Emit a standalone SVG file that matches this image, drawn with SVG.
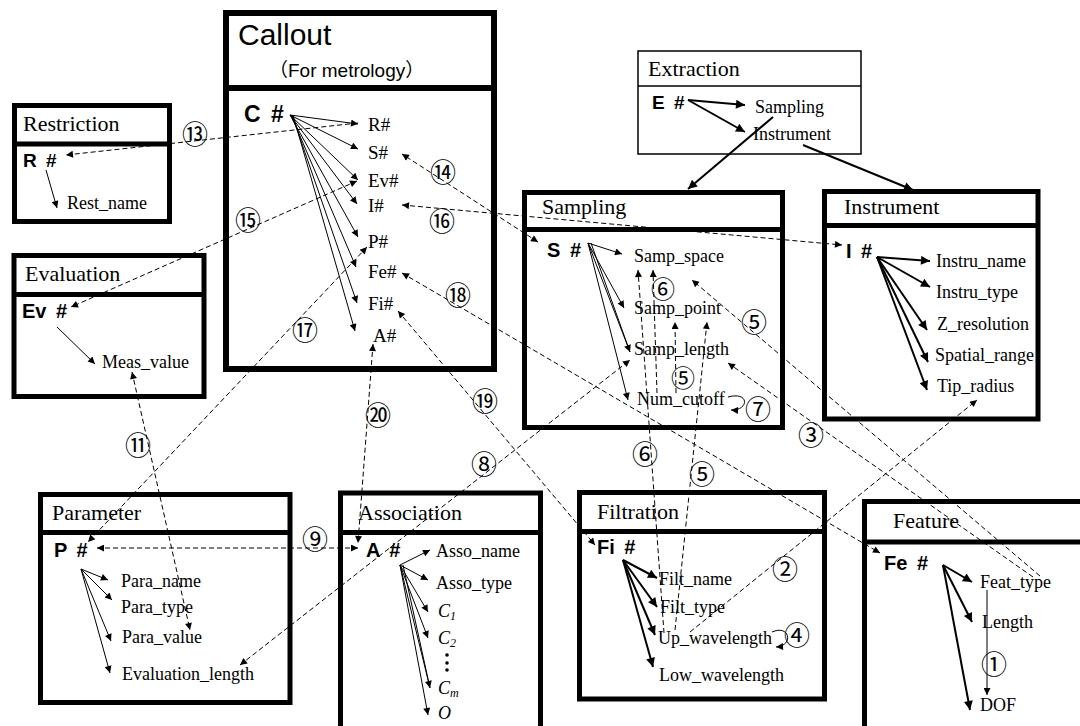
<svg xmlns="http://www.w3.org/2000/svg" width="1080" height="726" viewBox="0 0 1080 726">
<defs>
<marker id="a" viewBox="0 0 10 10" refX="10" refY="5" markerWidth="11" markerHeight="7" markerUnits="userSpaceOnUse" orient="auto-start-reverse"><path d="M0,0 L10,5 L0,10 z" fill="#000"/></marker>
<marker id="b" viewBox="0 0 10 10" refX="10" refY="5" markerWidth="14" markerHeight="9" markerUnits="userSpaceOnUse" orient="auto-start-reverse"><path d="M0,0 L10,5 L0,10 z" fill="#000"/></marker>
</defs>
<style>
.box{fill:#fff;stroke:#000;stroke-width:5}
.thin{fill:#fff;stroke:#000;stroke-width:1.5}
.hd{font-family:"Liberation Serif",serif;font-size:22px}
.it{font-family:"Liberation Serif",serif;font-size:18px}
.ci{font-family:"Liberation Serif",serif;font-size:19px}
.id{font-family:"Liberation Sans",sans-serif;font-size:20px;font-weight:bold;word-spacing:4px}
.ar{stroke:#000;stroke-width:1;fill:none;marker-end:url(#a)}
.ak{stroke:#000;stroke-width:2;fill:none;marker-end:url(#b)}
.ds{stroke:#000;stroke-width:1;fill:none;stroke-dasharray:5,3;marker-end:url(#a)}
.dd{stroke:#000;stroke-width:1;fill:none;stroke-dasharray:5,3;marker-end:url(#a);marker-start:url(#a)}
.num{font-family:"Noto Sans CJK SC",sans-serif;font-size:26px;text-anchor:middle;dominant-baseline:central}
</style>
<rect width="1080" height="726" fill="#fff"/>

<g id="callout">
<rect class="box" x="226" y="13" width="268" height="356" style="stroke-width:6"/>
<line x1="226" y1="88" x2="494" y2="88" stroke="#000" stroke-width="6"/>
<text x="238" y="45" font-family="Liberation Sans, sans-serif" font-size="30">Callout</text>
<text x="269" y="77" font-family="Liberation Sans, 'Noto Sans CJK SC', sans-serif" font-size="19">（For metrology）</text>
<text x="244" y="122" class="id" style="font-size:23px">C #</text>
<text x="368" y="131" class="ci">R#</text>
<text x="368" y="159" class="ci">S#</text>
<text x="368" y="187" class="ci">Ev#</text>
<text x="368" y="212" class="ci">I#</text>
<text x="368" y="248" class="ci">P#</text>
<text x="368" y="278" class="ci">Fe#</text>
<text x="368" y="310" class="ci">Fi#</text>
<text x="373" y="342" class="ci">A#</text>
</g>

<g id="restriction">
<rect class="box" x="14.5" y="105.5" width="155" height="116"/>
<line x1="14.5" y1="144" x2="169.5" y2="144" stroke="#000" stroke-width="5"/>
<text x="23" y="131" class="hd">Restriction</text>
<text x="23" y="167" class="id" style="font-size:19px">R #</text>
<text x="67" y="209" class="it">Rest_name</text>
</g>

<g id="evaluation">
<rect class="box" x="14" y="255.5" width="190" height="141"/>
<line x1="14" y1="294.5" x2="204" y2="294.5" stroke="#000" stroke-width="5"/>
<text x="25" y="281" class="hd">Evaluation</text>
<text x="22" y="318" class="id" style="font-size:20px">Ev #</text>
<text x="102" y="368" class="it">Meas_value</text>
</g>

<g id="extraction">
<rect class="thin" x="638" y="51" width="223" height="103"/>
<line x1="638" y1="86" x2="861" y2="86" stroke="#000" stroke-width="1.5"/>
<text x="648" y="76" class="hd">Extraction</text>
<text x="652" y="109" class="id" style="font-size:19px">E #</text>
<text x="755" y="113" class="it">Sampling</text>
<text x="753" y="140" class="it">Instrument</text>
</g>

<g id="sampling">
<rect class="box" x="524.5" y="192.5" width="258" height="235"/>
<line x1="524.5" y1="229.5" x2="782.5" y2="229.5" stroke="#000" stroke-width="5"/>
<text x="542" y="214" class="hd">Sampling</text>
<text x="547" y="257" class="id">S #</text>
<text x="634" y="262" class="it">Samp_space</text>
<text x="634" y="314" class="it">Samp_point</text>
<text x="634" y="355" class="it">Samp_length</text>
<text x="637" y="405" class="it">Num_cutoff</text>
</g>

<g id="instrument">
<rect class="box" x="824.5" y="191.5" width="213.5" height="227.5"/>
<line x1="824.5" y1="225.5" x2="1038" y2="225.5" stroke="#000" stroke-width="5"/>
<text x="844" y="214" class="hd">Instrument</text>
<text x="846" y="258" class="id">I #</text>
<text x="936" y="267" class="it">Instru_name</text>
<text x="936" y="298" class="it">Instru_type</text>
<text x="937" y="330" class="it">Z_resolution</text>
<text x="935" y="361" class="it">Spatial_range</text>
<text x="937" y="392" class="it">Tip_radius</text>
</g>

<g id="parameter">
<rect class="box" x="40.5" y="494.5" width="249.5" height="208"/>
<line x1="40.5" y1="532.5" x2="290" y2="532.5" stroke="#000" stroke-width="5"/>
<text x="52" y="520" class="hd">Parameter</text>
<text x="54" y="557" class="id">P #</text>
<text x="121" y="587" class="it">Para_name</text>
<text x="121" y="613" class="it">Para_type</text>
<text x="122" y="643" class="it">Para_value</text>
<text x="122" y="680" class="it">Evaluation_length</text>
</g>

<g id="association">
<path d="M340.5,732 V493 H540.5 V732" fill="#fff" stroke="#000" stroke-width="5"/>
<line x1="340.5" y1="532.5" x2="540.5" y2="532.5" stroke="#000" stroke-width="5"/>
<text x="358" y="520" class="hd">Association</text>
<text x="366" y="557" class="id">A #</text>
<text x="436" y="557" class="it">Asso_name</text>
<text x="436" y="589" class="it">Asso_type</text>
<text x="438" y="617" class="it" font-style="italic">C<tspan font-size="12" dy="3">1</tspan></text>
<text x="438" y="644" class="it" font-style="italic">C<tspan font-size="12" dy="3">2</tspan></text>
<circle cx="447" cy="655" r="1.8"/><circle cx="447" cy="663" r="1.8"/><circle cx="447" cy="670" r="1.8"/>
<text x="438" y="694" class="it" font-style="italic">C<tspan font-size="12" dy="3">m</tspan></text>
<text x="438" y="719" class="it" font-style="italic">O</text>
</g>

<g id="filtration">
<rect class="box" x="579.5" y="492.5" width="245" height="206.5"/>
<line x1="579.5" y1="531.5" x2="824.5" y2="531.5" stroke="#000" stroke-width="5"/>
<text x="597" y="519" class="hd">Filtration</text>
<text x="597" y="554" class="id">Fi #</text>
<text x="659" y="585" class="it">Filt_name</text>
<text x="660" y="613" class="it">Filt_type</text>
<text x="658" y="644" class="it">Up_wavelength</text>
<text x="659" y="681" class="it">Low_wavelength</text>
</g>

<g id="feature">
<path d="M864.5,732 V501.5 H1085" fill="#fff" stroke="#000" stroke-width="5"/>
<line x1="864.5" y1="542" x2="1085" y2="542" stroke="#000" stroke-width="5"/>
<text x="893" y="528" class="hd">Feature</text>
<text x="884" y="570" class="id">Fe #</text>
<text x="980" y="588" class="it">Feat_type</text>
<text x="982" y="628" class="it">Length</text>
<text x="980" y="711" class="it">DOF</text>
</g>

<g id="connectors">
<line class="ar" x1="290" y1="115" x2="358" y2="124"/>
<line class="ar" x1="290" y1="115" x2="358" y2="149"/>
<line class="ar" x1="290" y1="115" x2="358" y2="180"/>
<line class="ar" x1="290" y1="115" x2="357" y2="204"/>
<line class="ar" x1="290" y1="115" x2="358" y2="237"/>
<line class="ar" x1="291" y1="115" x2="356" y2="267"/>
<line class="ar" x1="292" y1="115" x2="357" y2="303"/>
<line class="ar" x1="293" y1="115" x2="355" y2="331"/>
<line class="ar" x1="46" y1="170" x2="57" y2="208"/>
<line class="ar" x1="57" y1="327" x2="95" y2="364"/>
<line class="ak" x1="688" y1="100" x2="745" y2="105"/>
<line class="ak" x1="688" y1="100" x2="745" y2="132"/>
<line class="ak" x1="773" y1="117" x2="688" y2="189"/>
<line class="ak" x1="803" y1="145" x2="913" y2="190"/>
<line class="ar" x1="588" y1="243" x2="622" y2="254"/>
<line class="ar" x1="588" y1="243" x2="624" y2="308"/>
<line class="ar" x1="588" y1="243" x2="630" y2="352"/>
<line x1="591" y1="243" x2="630" y2="352" stroke="#000" stroke-width="1"/>
<line class="ar" x1="588" y1="243" x2="628" y2="400"/>
<line class="ak" x1="877" y1="257" x2="930" y2="261"/>
<line class="ak" x1="877" y1="257" x2="930" y2="287"/>
<line class="ak" x1="877" y1="257" x2="927" y2="330"/>
<line class="ak" x1="877" y1="257" x2="928" y2="362"/>
<line class="ak" x1="877" y1="257" x2="927" y2="390"/>
<line class="ar" x1="81" y1="569" x2="108" y2="580"/>
<line class="ar" x1="81" y1="569" x2="112" y2="600"/>
<line class="ar" x1="81" y1="569" x2="111" y2="641"/>
<line class="ar" x1="81" y1="569" x2="110" y2="673"/>
<line class="ar" x1="400" y1="565" x2="430" y2="550"/>
<line class="ar" x1="400" y1="565" x2="428" y2="580"/>
<line class="ar" x1="400" y1="565" x2="428" y2="612"/>
<line class="ar" x1="400" y1="565" x2="428" y2="638"/>
<line class="ar" x1="400" y1="565" x2="430" y2="688"/>
<line x1="403" y1="565" x2="430" y2="688" stroke="#000" stroke-width="1"/>
<line class="ar" x1="400" y1="565" x2="428" y2="715"/>
<line class="ak" x1="623" y1="560" x2="657" y2="578"/>
<line class="ak" x1="623" y1="560" x2="657" y2="607"/>
<line class="ak" x1="623" y1="560" x2="655" y2="635"/>
<line class="ak" x1="623" y1="560" x2="653" y2="667"/>
<line class="ak" x1="943" y1="565" x2="972" y2="582"/>
<line class="ak" x1="943" y1="565" x2="972" y2="622"/>
<line class="ak" x1="943" y1="565" x2="970" y2="710"/>
<line class="ar" x1="987" y1="590" x2="987" y2="695"/>
<line class="ds" x1="358" y1="123" x2="66" y2="155"/>
<line class="dd" x1="538" y1="242" x2="402" y2="154"/>
<line class="dd" x1="357" y1="181" x2="71" y2="307"/>
<line class="dd" x1="402" y1="205" x2="842" y2="245"/>
<line class="dd" x1="367" y1="247" x2="88" y2="542"/>
<line class="dd" x1="402" y1="273" x2="880" y2="553"/>
<line class="dd" x1="398" y1="311" x2="595" y2="545"/>
<line class="dd" x1="373" y1="344" x2="358" y2="543"/>
<line class="dd" x1="97" y1="548" x2="358" y2="548"/>
<line class="dd" x1="132" y1="372" x2="190" y2="630"/>
<line class="dd" x1="240" y1="665" x2="630" y2="360"/>
<line class="ds" x1="657" y1="393" x2="653" y2="270"/>
<line class="ds" x1="664" y1="633" x2="638" y2="270"/>
<line class="ds" x1="676" y1="393" x2="675" y2="322"/>
<line class="ds" x1="675" y1="630" x2="707" y2="322"/>
<line class="ds" x1="1040" y1="576" x2="692" y2="280"/>
<line class="ds" x1="1033" y1="577" x2="728" y2="363"/>
<line class="ds" x1="690" y1="632" x2="977" y2="400"/>
<path class="ar" d="M772,632 C790,624 794,646 776,647"/>
<path class="ar" d="M728,397 C750,391 749,411 731,410"/>
</g>

<g id="labels">
<text class="num" x="195" y="132">⑬</text>
<text class="num" x="443" y="170">⑭</text>
<text class="num" x="248" y="218">⑮</text>
<text class="num" x="442" y="219">⑯</text>
<text class="num" x="305" y="328">⑰</text>
<text class="num" x="458" y="293">⑱</text>
<text class="num" x="485" y="399">⑲</text>
<text class="num" x="378" y="413">⑳</text>
<text class="num" x="138" y="443">⑪</text>
<text class="num" x="315" y="537">⑨</text>
<text class="num" x="484" y="462">⑧</text>
<text class="num" x="663" y="287" style="font-size:24px">⑥</text>
<text class="num" x="683" y="376" style="font-size:24px">⑤</text>
<text class="num" x="754" y="320">⑤</text>
<text class="num" x="758" y="407">⑦</text>
<text class="num" x="645" y="452">⑥</text>
<text class="num" x="702" y="472">⑤</text>
<text class="num" x="811" y="433">③</text>
<text class="num" x="785" y="567">②</text>
<text class="num" x="797" y="633">④</text>
<text class="num" x="994" y="662">①</text>
</g>
</svg>
